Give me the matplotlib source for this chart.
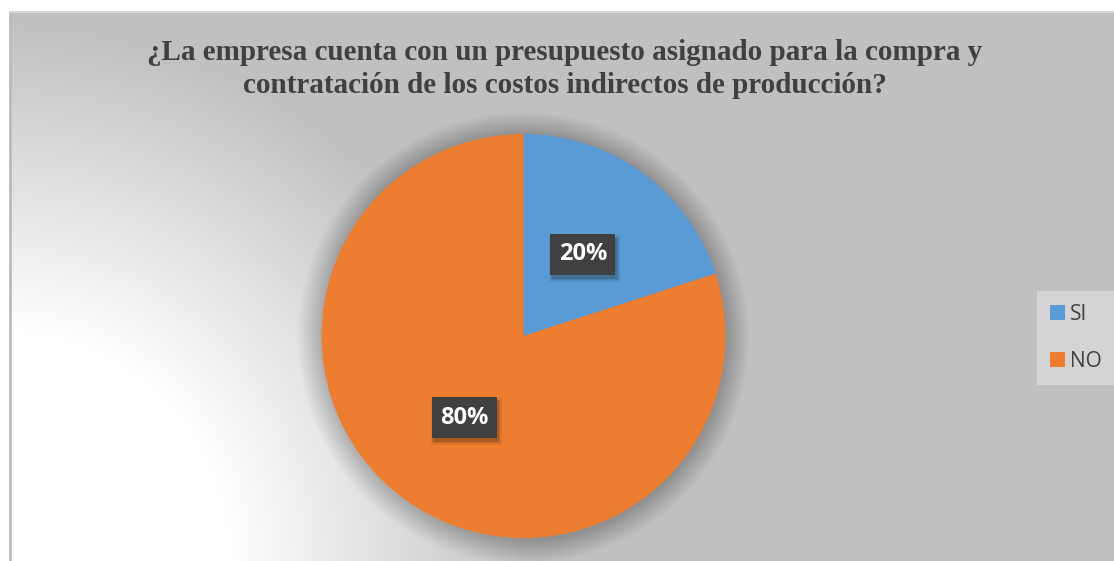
import numpy as np
import matplotlib.pyplot as plt
from matplotlib.patches import Patch, Rectangle, Circle

# data
labels = ['SI', 'NO']
values = [20, 80]
colors = ['#5B9BD5', '#ED7D31']
title = ('¿La empresa cuenta con un presupuesto asignado para la compra y\n'
         'contratación de los costos indirectos de producción?')

W, H = 1114, 561
fig = plt.figure(figsize=(W / 100, H / 100), dpi=100)
fig.patch.set_facecolor('white')

# pie placement in pixels (top-left origin)
cx, cy, r = 523.5, 336, 202

# chart area background: radial gradient white -> gray from bottom-left
x0, y0 = 10, 12
bg = fig.add_axes([x0 / W, 0, 1 - x0 / W, 1 - y0 / H])
xx, yy = np.meshgrid(np.arange(x0, W) + 0.5, np.arange(y0, H) + 0.5)
d = np.hypot(xx - 0, yy - H)
t = np.clip((d - 230) / 310, 0, 1)
shade = 255 - (255 - 192) * t
img = np.dstack([shade, shade, shade]) / 255
bg.imshow(img, aspect='auto', extent=[0, 1, 0, 1], origin='upper')
bg.set_xlim(0, 1)
bg.set_ylim(0, 1)
bg.axis('off')

# borders
fig.add_artist(plt.Line2D([x0 / W, x0 / W], [0, 1 - y0 / H], color='#BBBBBB', lw=2))
fig.add_artist(plt.Line2D([x0 / W, 1], [1 - y0 / H, 1 - y0 / H], color='#D9D9D9', lw=1.5))

# title
fig.text(565 / W, 1 - 69 / H, title, ha='center', va='center', multialignment='center',
         fontsize=21, fontweight='bold', family='Liberation Serif', color='#404040',
         linespacing=1.25)

# pie
ax = fig.add_axes([(cx - r) / W, (H - cy - r) / H, 2 * r / W, 2 * r / H])

# soft shadow: stacked translucent discs under the pie
px = 1 / r
for k in range(24):
    ax.add_patch(Circle((0, -1.5 * px), 1 + (k + 1) * px, fc='black', ec='none',
                        alpha=0.007, zorder=0, clip_on=False))

wedges, texts, autotexts = ax.pie(values, colors=colors, startangle=90, counterclock=False,
                                  autopct='%1.0f%%', pctdistance=0.5, radius=1,
                                  wedgeprops=dict(linewidth=0))
for w in wedges:
    w.set_zorder(2)
ax.set_xlim(-1, 1)
ax.set_ylim(-1, 1)
ax.set_aspect('equal')
ax.axis('off')

for at in autotexts:
    at.set_fontsize(17)
    at.set_fontweight('bold')
    at.set_family('Open Sans')
    at.set_color('white')
    at.set_zorder(5)
    at.set_bbox(dict(boxstyle='square,pad=0.35', fc='#404040', ec='none'))

# box shadows, between wedges and labels
fig.canvas.draw()
for at in autotexts:
    ext = at.get_bbox_patch().get_window_extent()
    for k, a in [(0, 0.14), (1.5, 0.1), (3, 0.07)]:
        ax.add_patch(Rectangle(((ext.x0 + 2 - k) / W, (ext.y0 - 4 - k) / H),
                               (ext.width + 2 * k) / W, (ext.height + 2 * k) / H,
                               transform=fig.transFigure, fc='black', ec='none',
                               alpha=a, zorder=3, clip_on=False))

# legend
handles = [Patch(facecolor=c, edgecolor='none') for c in colors]
leg = fig.legend(handles, labels, loc='upper left', bbox_to_anchor=(1037 / W, 1 - 291 / H),
                 frameon=True, fancybox=False, handlelength=0.7, handleheight=0.7,
                 handletextpad=0.25, labelspacing=1.25, borderpad=0.62, borderaxespad=0,
                 prop=dict(family='Open Sans', size=15))
leg.get_frame().set_facecolor('#D4D4D4')
leg.get_frame().set_edgecolor('none')
leg.get_frame().set_alpha(1)
for tx in leg.get_texts():
    tx.set_color('#404040')

fig.savefig('out.png', dpi=100)
